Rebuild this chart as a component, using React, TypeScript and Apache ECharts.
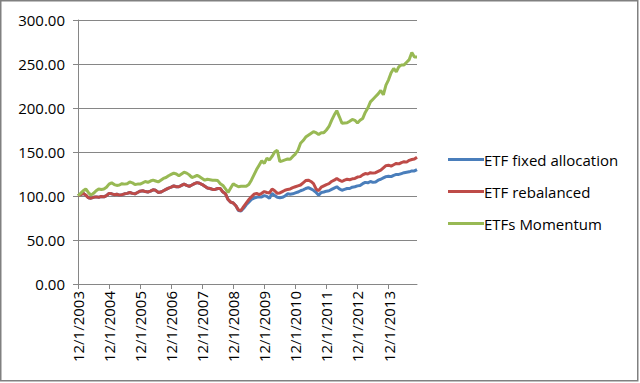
import React, { useEffect, useRef } from "react";
import * as echarts from "echarts";

const seriesNames = ["ETF fixed allocation", "ETF rebalanced", "ETFs Momentum"];

// Monthly dates starting 12/1/2003
const startYear = 2003;
const startMonth = 12;
const pointCount = 132;
const categories: string[] = [];
for (let i = 0; i < pointCount; i++) {
  const m0 = startMonth - 1 + i;
  const y = startYear + Math.floor(m0 / 12);
  const m = (m0 % 12) + 1;
  categories.push(`${m}/1/${y}`);
}

const rebalanced = [
  100.4, 101.5, 103, 101, 98, 97.5, 98.5, 99, 98.5, 99.5, 99, 100.5,
  103, 102.5, 101.5, 102, 101, 101.5, 102.5, 103, 104, 103, 102.5, 104,
  105.5, 106, 105, 104.5, 105.5, 107, 106.5, 104, 104.5, 106, 107.5, 109,
  110, 111.5, 110.5, 110.5, 112, 113.5, 112, 111, 112.5, 114, 115.2, 114.5,
  113, 111, 109, 108.5, 107.5, 107.5, 108.5, 108.5, 104.5, 102.5, 96, 93,
  92, 89, 84, 83.5, 88, 92, 96, 99, 102, 103, 101.5, 103,
  105, 104, 103.5, 108, 106, 103, 103.5, 105, 106.5, 107.5, 108, 109.5,
  110.5, 111.5, 112.5, 115, 117.5, 118, 116.5, 114, 108, 106, 110, 111.5,
  113, 114, 116.5, 118, 120, 118, 116.5, 118, 119, 118.5, 119.5, 120,
  121.5, 122, 124, 125.5, 125, 126.5, 126, 126.5, 128, 129.5, 132, 134.5,
  135, 134, 135.5, 137, 136.5, 138, 139, 138.5, 140.5, 141.5, 142, 144,
];

const fixedAllocation = [
  100.4, 101.5, 103, 101, 98, 97.5, 98.5, 99, 98.5, 99.5, 99, 100.5,
  103, 102.5, 101.5, 102, 101, 101.5, 102.5, 103, 104, 103, 102.5, 104,
  105.5, 106, 105, 104.5, 105.5, 107, 106.5, 104, 104.5, 106, 107.5, 109,
  110, 111.5, 110.5, 110.5, 112, 113.5, 112, 111, 112.5, 114, 115.2, 114.5,
  113, 111, 109, 108.5, 107.5, 107.5, 108.5, 108.5, 104.5, 102.5, 96, 93,
  92, 89, 83.5, 83, 86, 90, 93, 96, 97.5, 98.5, 99, 99,
  100.5, 99.5, 97.5, 103, 100.5, 98.5, 98, 98.5, 100, 102.5, 102, 102.5,
  103.5, 104.5, 106, 107, 108.5, 109.5, 108, 106.5, 104, 101, 104, 104.5,
  105.5, 106, 107.5, 109, 110.5, 108, 106.5, 107.5, 108.5, 108.5, 110, 110.5,
  111.5, 112, 114, 115.5, 115, 116.5, 115.5, 116, 118, 119, 120.5, 122,
  122.5, 122, 123.5, 124.5, 124.5, 125.5, 126.5, 127, 127.5, 128.5, 128.5, 130,
];

const momentum = [
  100.3, 103, 106, 108, 104, 101, 103, 106, 108, 107.5, 108, 110,
  113.5, 115, 113, 112, 112.5, 114, 113.5, 114, 116, 115, 113, 113.5,
  113.6, 115, 116.5, 115.5, 117, 118, 117, 116, 118, 120, 121, 123,
  124.5, 126, 125, 123, 125, 127, 126, 124, 121, 122, 123.5, 122,
  120, 118, 119, 118.5, 118, 118, 117.5, 114, 112, 108, 104, 109,
  114, 112, 110.5, 111, 111, 111, 113, 118, 124, 130, 135, 140,
  137, 143, 141, 145, 150, 152, 139, 140, 141, 142, 141.7, 145,
  147.7, 152, 160, 163, 167, 169, 171, 173, 172, 170, 172, 172,
  175, 179, 186, 192, 197, 190, 182.6, 183, 183.3, 185, 187, 186,
  183, 186, 188, 195, 200, 207, 210, 213, 216, 220, 215, 226,
  232, 240, 245, 241, 247, 249, 249, 252, 255, 263, 258, 258,
];

const colors = ["#4A7EBB", "#BE4B48", "#98B954"];
const FONT = "Open Sans";

export default function App() {
  const ref = useRef<HTMLDivElement>(null);
  useEffect(() => {
    if (!ref.current) return;
    const chart = echarts.init(ref.current, undefined, { renderer: "svg" });
    const dataSets = [fixedAllocation, rebalanced, momentum];
    chart.setOption({
      animation: false,
      backgroundColor: "#ffffff",
      textStyle: { fontFamily: FONT },
      grid: { left: 78, right: 223, top: 20, bottom: 99, containLabel: false },
      legend: {
        orient: "vertical",
        left: 443,
        top: 147,
        itemWidth: 36,
        itemHeight: 3,
        itemGap: 17,
        icon: "rect",
        textStyle: { fontFamily: FONT, fontSize: 15, color: "#000", padding: [0, 0, 0, -5] },
        data: seriesNames,
      },
      xAxis: {
        type: "category",
        boundaryGap: false,
        data: categories,
        axisLine: { show: true, lineStyle: { color: "#868686", width: 1 } },
        axisTick: { show: true, interval: 11, length: 5, lineStyle: { color: "#868686" } },
        axisLabel: {
          interval: 11,
          rotate: 90,
          margin: 7,
          fontFamily: FONT,
          fontSize: 15,
          color: "#000",
        },
        splitLine: { show: false },
      },
      yAxis: {
        type: "value",
        min: 0,
        max: 300,
        interval: 50,
        axisLine: { show: true, lineStyle: { color: "#868686", width: 1 } },
        axisTick: { show: true, length: 5, lineStyle: { color: "#868686" } },
        axisLabel: {
          formatter: (v: number) => v.toFixed(2),
          margin: 13,
          fontFamily: FONT,
          fontSize: 15,
          color: "#000",
        },
        splitLine: { show: true, lineStyle: { color: "#868686", width: 1 } },
      },
      graphic: [
        {
          type: "rect",
          shape: { x: 0.75, y: 0.75, width: 637, height: 380 },
          style: { fill: "none", stroke: "#808080", lineWidth: 1.5 },
          silent: true,
        },
      ],
      series: seriesNames.map((name, i) => ({
        name,
        type: "line",
        data: dataSets[i],
        showSymbol: false,
        symbol: "none",
        lineStyle: { width: 3, color: colors[i] },
        itemStyle: { color: colors[i] },
        z: 2 + i,
      })),
    });
    return () => chart.dispose();
  }, []);
  return (
    <div
      ref={ref}
      style={{ position: "absolute", left: 0, top: 0, width: 640, height: 383, background: "#fff" }}
    />
  );
}
